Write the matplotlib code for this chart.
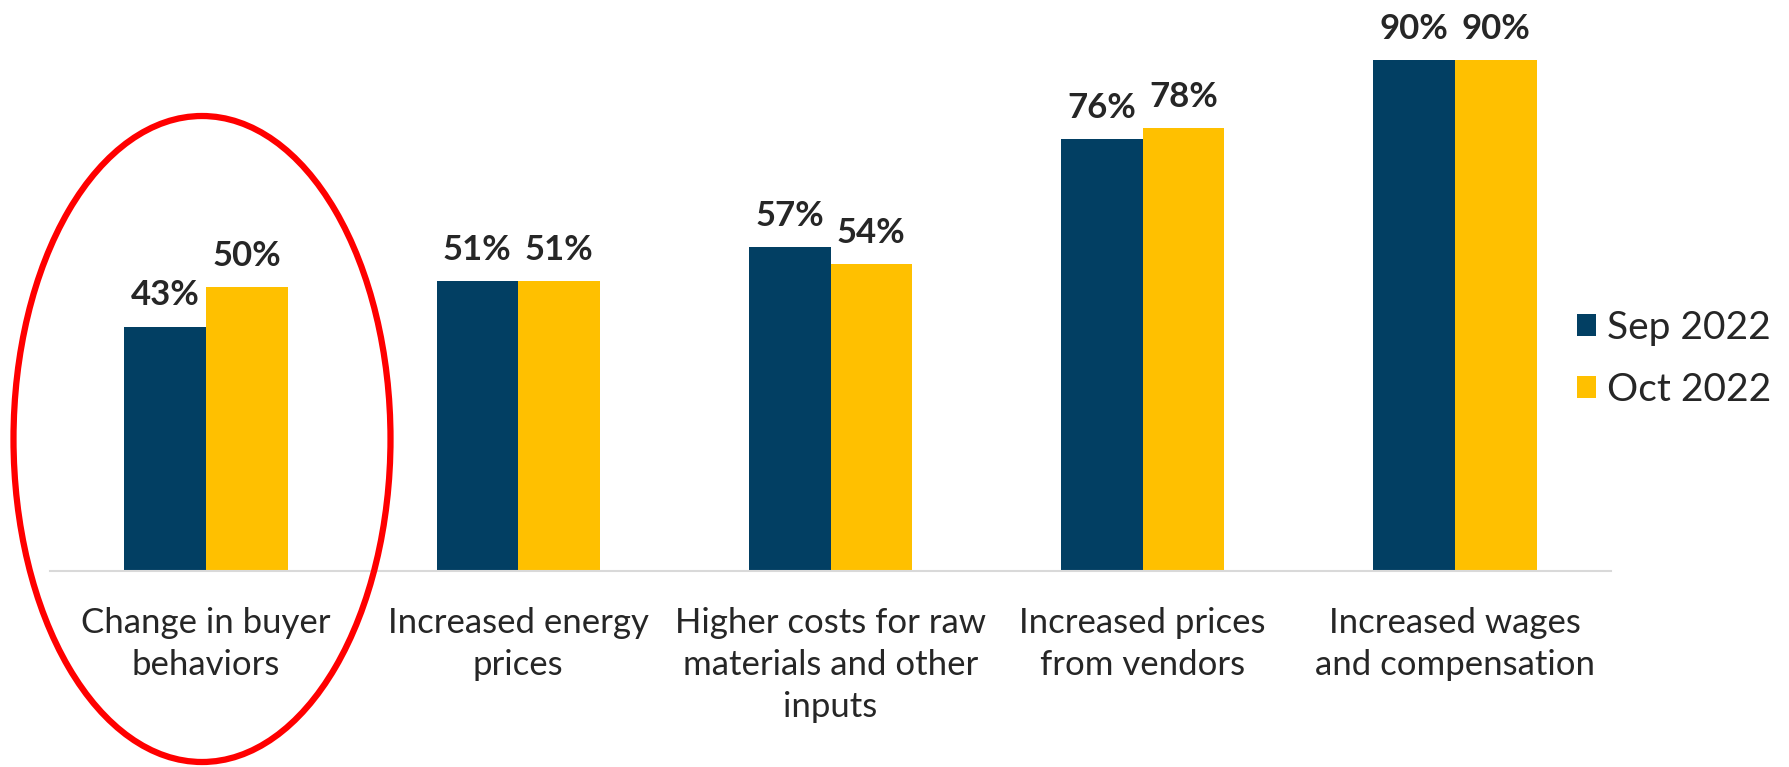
import matplotlib
matplotlib.use("Agg")
import numpy as np
import matplotlib.pyplot as plt
from matplotlib.patches import Ellipse

categories = ["Change in buyer\nbehaviors",
              "Increased energy\nprices",
              "Higher costs for raw\nmaterials and other\ninputs",
              "Increased prices\nfrom vendors",
              "Increased wages\nand compensation"]
sep_2022 = [43, 51, 57, 76, 90]
oct_2022 = [50, 51, 54, 78, 90]
series_names = ["Sep 2022", "Oct 2022"]

navy = "#023F63"
gold = "#FFC000"
text_col = "#262626"

plt.rcParams['font.family'] = ['Lato', 'DejaVu Sans']

W, H = 1789, 767
fig = plt.figure(figsize=(W / 100, H / 100), dpi=100)
ax = fig.add_axes([50 / W, (H - 571) / H, 1561 / W, 568 / H])

x = np.arange(len(categories))
bw = 0.262
b1 = ax.bar(x - bw / 2, sep_2022, bw, color=navy, label=series_names[0])
b2 = ax.bar(x + bw / 2, oct_2022, bw, color=gold, label=series_names[1])

for bars, vals in ((b1, sep_2022), (b2, oct_2022)):
    for rect, v in zip(bars, vals):
        ax.annotate("%d%%" % v, (rect.get_x() + rect.get_width() / 2, rect.get_height()),
                    xytext=(0, 11), textcoords="offset points", ha="center", va="bottom",
                    fontsize=25, fontweight="bold", color=text_col, annotation_clip=False)

ax.set_xlim(-0.5, len(categories) - 0.5)
ax.set_ylim(0, 100)
ax.set_xticks(x)
ax.set_xticklabels(categories, fontsize=25, color=text_col, linespacing=1.38, va="top")
ax.tick_params(axis="x", length=0, pad=26)
ax.set_yticks([])
for s in ("top", "right", "left"):
    ax.spines[s].set_visible(False)
ax.spines["bottom"].set_color("#D9D9D9")
ax.spines["bottom"].set_linewidth(1.5)

fig.legend(loc="center left", bbox_to_anchor=(1542 / W, 1 - 359 / H), frameon=False,
           fontsize=28, handlelength=0.5, handleheight=0.5, handletextpad=0.26,
           labelspacing=0.66, labelcolor=text_col)

# red highlight ring around the first group
ring = Ellipse((202 / W, 1 - 439 / H), 377 / W, 646 / H, transform=fig.transFigure,
               fill=False, edgecolor="#FF0000", linewidth=4.5)
fig.add_artist(ring)

fig.savefig("out.png", dpi=100, facecolor="white")
